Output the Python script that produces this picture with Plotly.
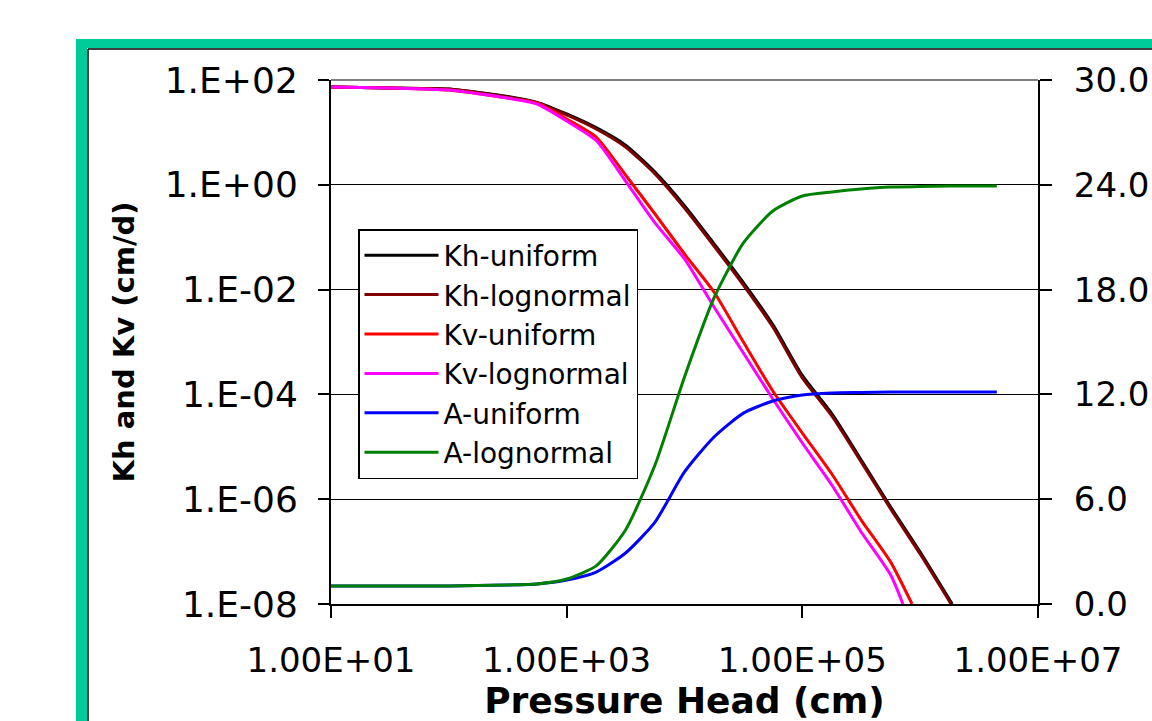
import plotly.graph_objects as go

# ---------------- data ----------------
# pressure head grid for the K curves (cm)
head_k = [10, 31.6, 100, 316, 562, 1000, 1780, 3160, 5620, 10000, 17800,
          31600, 56200, 100000, 178000, 316000, 562000, 1000000]

kh_uniform = [73.4, 70.3, 67.5, 48.5, 37.5, 22.5, 12.3, 5.7, 1.75, 0.40, 0.075,
              0.0136, 2.15e-3, 2.3e-4, 4.3e-5, 5.6e-6, 7.1e-7, 9.8e-8]
kh_uniform_end = (1.87e6, 1e-8)

kh_lognormal = [73.4, 70.3, 67.3, 47.4, 36.4, 21.5, 11.6, 5.26, 1.61, 0.361, 0.0679,
                0.0122, 1.93e-3, 2.06e-4, 3.87e-5, 5.13e-6, 6.5e-7, 9.0e-8]
kh_lognormal_end = (1.83e6, 1e-8)

kv_uniform = [73.4, 70.3, 64.4, 45.3, 36.4, 18.0, 8.17, 1.54, 0.277, 0.0478, 0.0090,
              1.0e-3, 1.16e-4, 1.83e-5, 3.03e-6, 4.0e-7, 6.3e-8]
kv_uniform_end = (8.53e5, 1e-8)

kv_lognormal = [73.4, 70.3, 64.4, 45.3, 34.8, 16.5, 7.0, 1.18, 0.187, 0.0384, 4.66e-3,
                6.17e-4, 8.17e-5, 1.18e-5, 1.87e-6, 2.37e-7, 3.57e-8]
kv_lognormal_end = (7.14e5, 1e-8)

# pressure head grid for the A curves (cm)
head_a = [10, 31.6, 100, 316, 562, 1000, 1780, 3160, 5620, 10000, 17800, 31600,
          56200, 100000, 178000, 316000, 562000, 1000000, 1780000, 3160000, 4470000]
a_uniform = [1.03, 1.03, 1.03, 1.09, 1.15, 1.37, 1.83, 2.92, 4.69, 7.56, 9.56, 10.93,
             11.62, 11.97, 12.08, 12.11, 12.14, 12.14, 12.14, 12.14, 12.14]
a_lognormal = [1.03, 1.03, 1.03, 1.09, 1.15, 1.43, 2.18, 4.24, 7.96, 13.0, 17.52, 20.67,
               22.5, 23.36, 23.59, 23.76, 23.87, 23.9, 23.93, 23.93, 23.93]

x_tick_vals = [10, 1e3, 1e5, 1e7]
x_tick_text = ["1.00E+01", "1.00E+03", "1.00E+05", "1.00E+07"]
y_tick_vals = [1e-8, 1e-6, 1e-4, 1e-2, 1, 1e2]
y_tick_text = ["1.E-08", "1.E-06", "1.E-04", "1.E-02", "1.E+00", "1.E+02"]
y2_tick_vals = [0, 6, 12, 18, 24, 30]
y2_tick_text = ["0.0", "6.0", "12.0", "18.0", "24.0", "30.0"]

series_names = ["Kh-uniform", "Kh-lognormal", "Kv-uniform", "Kv-lognormal",
                "A-uniform", "A-lognormal"]
series_colors = ["#000000", "#800000", "#FF0000", "#FF00FF", "#0000FF", "#008000"]

# ---------------- figure ----------------
fig = go.Figure()

k_series = [(kh_uniform, kh_uniform_end), (kh_lognormal, kh_lognormal_end),
            (kv_uniform, kv_uniform_end), (kv_lognormal, kv_lognormal_end)]
for i, (vals, end) in enumerate(k_series):
    xs = head_k[:len(vals)] + [end[0]]
    ys = vals + [end[1]]
    fig.add_trace(go.Scatter(x=xs, y=ys, mode="lines", name=series_names[i],
                             line=dict(color=series_colors[i], width=3, shape="spline",
                                       smoothing=0.6),
                             yaxis="y"))

for j, vals in enumerate([a_uniform, a_lognormal]):
    fig.add_trace(go.Scatter(x=head_a, y=vals, mode="lines", name=series_names[4 + j],
                             line=dict(color=series_colors[4 + j], width=3, shape="spline",
                                       smoothing=0.6),
                             yaxis="y2"))

# target plot-area edges in screen pixels
L, R, T, B = 331, 1038, 80, 604
W, H = 1152, 721


def px(x):
    return (x - L) / (R - L)


def py(y):
    return (B - y) / (B - T)


teal = "#00CC99"
shapes = [
    dict(type="rect", xref="paper", yref="paper", x0=px(76), x1=px(1170), y0=py(48), y1=py(39),
         fillcolor=teal, line=dict(width=0), layer="above"),
    dict(type="rect", xref="paper", yref="paper", x0=px(76), x1=px(87), y0=py(740), y1=py(39),
         fillcolor=teal, line=dict(width=0), layer="above"),
    dict(type="line", xref="paper", yref="paper", x0=px(88), x1=px(88), y0=py(49), y1=py(740),
         line=dict(color="black", width=1.5), layer="above"),
    dict(type="line", xref="paper", yref="paper", x0=px(88), x1=px(1170), y0=py(49), y1=py(49),
         line=dict(color="black", width=1.5), layer="above"),
    dict(type="line", xref="paper", yref="paper", x0=0, x1=1, y0=1, y1=1,
         line=dict(color="#808080", width=2), layer="above"),
]

fig.update_layout(
    width=W, height=H, autosize=False,
    margin=dict(l=L, r=W - R, t=T, b=H - B, pad=0, autoexpand=False),
    paper_bgcolor="white", plot_bgcolor="white",
    shapes=shapes,
    showlegend=True,
    legend=dict(x=px(358), y=py(229), xanchor="left", yanchor="top",
                bgcolor="white", bordercolor="black", borderwidth=1.5,
                font=dict(family="DejaVu Sans", size=28, color="black"),
                itemwidth=74, tracegroupgap=0),
    xaxis=dict(type="log", range=[1, 7], tickvals=x_tick_vals, ticktext=x_tick_text,
               ticks="outside", ticklen=12, tickwidth=2, tickcolor="black",
               showline=True, linecolor="black", linewidth=2, showgrid=False,
               zeroline=False, tickfont=dict(family="DejaVu Sans", size=34, color="black"),
               ticklabelstandoff=13, automargin=False,
               title=dict(text="Pressure Head (cm)",
                          font=dict(family="DejaVu Sans", size=36, color="black", weight="bold"),
                          standoff=18)),
    yaxis=dict(type="log", range=[-8, 2], tickvals=y_tick_vals, ticktext=y_tick_text,
               ticks="outside", ticklen=11, tickwidth=2, tickcolor="black",
               showline=True, linecolor="black", linewidth=2, automargin=False,
               showgrid=True, gridcolor="black", gridwidth=1, zeroline=False,
               tickfont=dict(family="DejaVu Sans", size=36, color="black"),
               ticklabelstandoff=13,
               title=dict(text="Kh and Kv (cm/d)",
                          font=dict(family="DejaVu Sans", size=29, color="black", weight="bold"),
                          standoff=22)),
    yaxis2=dict(overlaying="y", side="right", range=[0, 30], tickvals=y2_tick_vals,
                ticktext=y2_tick_text, ticks="outside", ticklen=12, tickwidth=2,
                tickcolor="black", showline=True, linecolor="black", linewidth=2,
                showgrid=False, zeroline=False,
                tickfont=dict(family="DejaVu Sans", size=34, color="black"),
                ticklabelstandoff=15, automargin=False),
)

fig.write_html(
    "out.html",
    config={"displayModeBar": False},
    post_script="document.body.style.margin='0px';document.body.style.overflow='hidden';",
)
